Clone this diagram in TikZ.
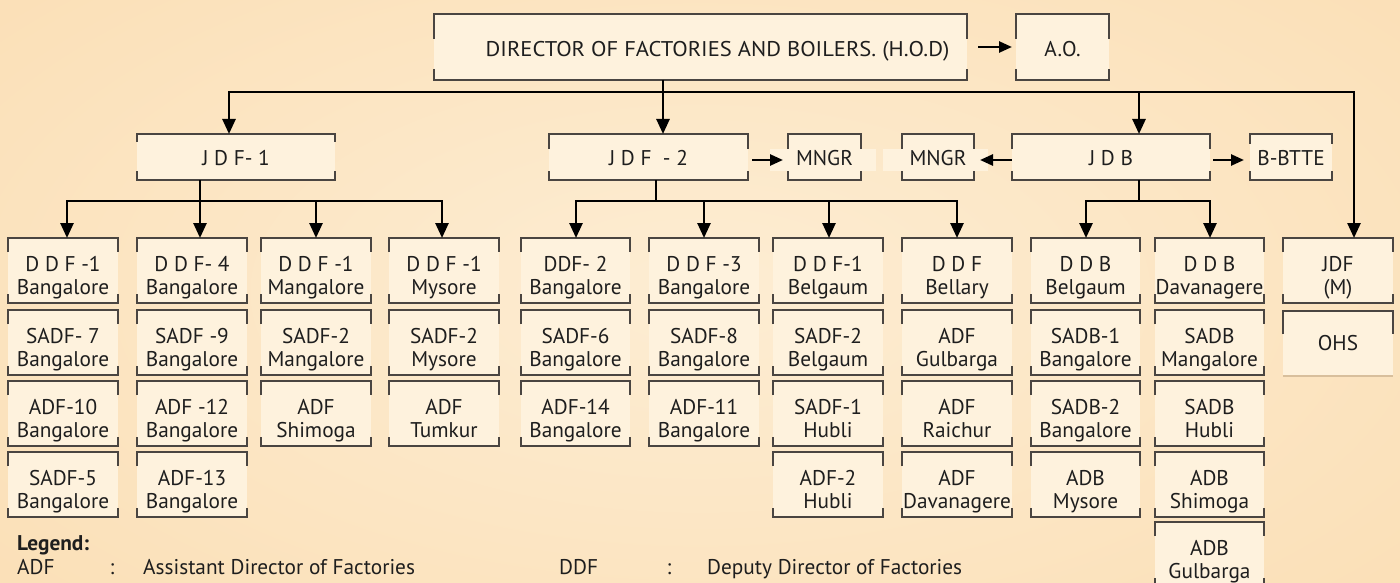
\documentclass[tikz,border=0pt]{standalone}
\usepackage{fontspec}
\setmainfont{PT Sans}
\usetikzlibrary{arrows.meta}
\definecolor{bgA}{HTML}{FDEDD3}
\definecolor{bgB}{HTML}{FBE0B8}
\definecolor{boxc}{HTML}{FEF2DD}
\definecolor{bordc}{HTML}{4A4541}
\definecolor{ink}{HTML}{1E1E1E}
\definecolor{tanc}{HTML}{D8BF9C}
\tikzset{
 boxn/.style={rectangle, fill=boxc, draw=none, inner sep=0pt, outer sep=0pt},
 bord/.style={draw=bordc, line width=1.2pt},
 txt/.style={inner sep=0pt, align=center, text=ink, font=\fontsize{21.3}{23}\selectfont},
 conn/.style={draw=black, line width=2.6pt, -{Triangle[width=13pt,length=15pt]}},
 connb/.style={draw=black, line width=2.6pt, {Triangle[width=13pt,length=15pt]}-{Triangle[width=13pt,length=15pt]}},
 hconn/.style={draw=black, line width=2.6pt, -{Triangle[width=11pt,length=13pt]}},
 bus/.style={draw=black, line width=2.6pt},
}
\newcommand\bx[7]{%
 \node[boxn, minimum width={(#4-#2)*1pt}, minimum height={(#5-#3)*1pt}] (#1) at ({(#2+#4)/2},{(#3+#5)/2}) {};
 \draw[bord] ([yshift=-#6pt]#1.north west) -- (#1.north west) -- (#1.north east) -- ([yshift=-#6pt]#1.north east);
 \draw[bord] ([yshift=#7pt]#1.south west) -- (#1.south west) -- (#1.south east) -- ([yshift=#7pt]#1.south east);
}
\newcommand\cell[6]{% name, x1, x2, top, line1, line2
 \bx{#1}{#2}{#4}{#3}{#4+65}{14}{9}
 \node[txt, yshift=-7.4pt] (#1t) at (#1) {\strut #5\\\strut #6};
}
\begin{document}
\begin{tikzpicture}[x=1pt,y=-1pt]
\useasboundingbox (0,0) rectangle (1400,583);
\clip (0,0) rectangle (1400,583);
\shade[inner color=bgA, outer color=bgB] (-200,-150) rectangle (1600,733);

% top level
\bx{hod}{434}{14}{967}{80}{25}{11}
\node[txt, yshift=-5pt, xshift=17pt] (hodt) at (hod) {\strut\scalebox{1.06}[1]{DIRECTOR OF FACTORIES AND BOILERS. (H.O.D)}};
\bx{ao}{1016}{14}{1109}{80}{25}{11}
\node[txt, yshift=-5pt] (aot) at (ao) {\strut A.O.};

% second level
\bx{jdfa}{137}{134}{335}{180}{8}{9}
\node[txt, yshift=-3.4pt] (jdfat) at (jdfa) {\strut J D F- 1};
\bx{jdfb}{549}{134}{748}{180}{15}{9}
\node[txt, yshift=-3.4pt] (jdfbt) at (jdfb) {\strut J D F\ \ - 2};
\bx{mga}{788}{134}{861}{180}{15}{9}
\fill[boxc] (770,149) rectangle (876,171);
\node[txt, yshift=-3.4pt] (mgat) at (mga) {\strut MNGR};
\bx{mgb}{902}{134}{974}{180}{15}{9}
\fill[boxc] (883,149) rectangle (988,171);
\node[txt, yshift=-3.4pt] (mgbt) at (mgb) {\strut MNGR};
\bx{jdb}{1012}{134}{1210}{180}{15}{9}
\node[txt, yshift=-3.4pt] (jdbt) at (jdb) {\strut J D B};
\bx{bbt}{1250}{134}{1332}{180}{10}{9}
\node[txt, yshift=-3.4pt] (bbtt) at (bbt) {\strut B-BTTE};

% columns
\cell{a1}{8}{118}{238}{D D F -1}{Bangalore}
\cell{a2}{8}{118}{310}{SADF- 7}{Bangalore}
\cell{a3}{8}{118}{381}{ADF-10}{Bangalore}
\cell{a4}{8}{118}{452}{SADF-5}{Bangalore}
\cell{b1}{137}{247}{238}{D D F- 4}{Bangalore}
\cell{b2}{137}{247}{310}{SADF -9}{Bangalore}
\cell{b3}{137}{247}{381}{ADF -12}{Bangalore}
\cell{b4}{137}{247}{452}{ADF-13}{Bangalore}
\cell{c1}{261}{371}{238}{D D F -1}{Mangalore}
\cell{c2}{261}{371}{310}{SADF-2}{Mangalore}
\cell{c3}{261}{371}{381}{ADF}{Shimoga}
\cell{d1}{389}{499}{238}{D D F -1}{Mysore}
\cell{d2}{389}{499}{310}{SADF-2}{Mysore}
\cell{d3}{389}{499}{381}{ADF}{Tumkur}
\cell{e1}{521}{630}{238}{DDF- 2}{Bangalore}
\cell{e2}{521}{630}{310}{SADF-6}{Bangalore}
\cell{e3}{521}{630}{381}{ADF-14}{Bangalore}
\cell{f1}{649}{759}{238}{D D F -3}{Bangalore}
\cell{f2}{649}{759}{310}{SADF-8}{Bangalore}
\cell{f3}{649}{759}{381}{ADF-11}{Bangalore}
\cell{g1}{773}{883}{238}{D D F-1}{Belgaum}
\cell{g2}{773}{883}{310}{SADF-2}{Belgaum}
\cell{g3}{773}{883}{381}{SADF-1}{Hubli}
\cell{g4}{773}{883}{452}{ADF-2}{Hubli}
\cell{h1}{902}{1012}{238}{D D F}{Bellary}
\cell{h2}{902}{1012}{310}{ADF}{Gulbarga}
\cell{h3}{902}{1012}{381}{ADF}{Raichur}
\cell{h4}{902}{1012}{452}{ADF}{Davanagere}
\cell{i1}{1031}{1140}{238}{D D B}{Belgaum}
\cell{i2}{1031}{1140}{310}{SADB-1}{Bangalore}
\cell{i3}{1031}{1140}{381}{SADB-2}{Bangalore}
\cell{i4}{1031}{1140}{452}{ADB}{Mysore}
\cell{j1}{1155}{1264}{238}{D D B}{Davanagere}
\cell{j2}{1155}{1264}{310}{SADB}{Mangalore}
\cell{j3}{1155}{1264}{381}{SADB}{Hubli}
\cell{j4}{1155}{1264}{452}{ADB}{Shimoga}
\cell{j5}{1155}{1264}{522}{ADB}{Gulbarga}
\cell{k1}{1283}{1393}{238}{JDF}{(M)}
\node[boxn, minimum width=110pt, minimum height=65pt] (k2) at (1338,343.5) {};
\draw[bord] ([yshift=-23pt]k2.north west) -- (k2.north west) -- (k2.north east) -- ([yshift=-23pt]k2.north east);
\draw[draw=tanc, line width=1.2pt] (k2.south west) -- (k2.south east);
\node[txt, yshift=-2.5pt] (k2t) at (k2) {\strut OHS};

% top connectors
\coordinate (tp) at (663,92);
\coordinate (ta) at (229,92);
\coordinate (tm) at (1354,92);
\coordinate (tj) at (1139,92);
\draw[bus] (tp |- hod.south) -- (tp);
\draw[connb] (ta |- jdfa.north) -- (ta) -- (tm) -- (tm |- k1.north);
\draw[conn] (tp) -- (tp |- jdfb.north);
\draw[conn] (tj) -- (tj |- jdb.north);

% side arrows
\draw[hconn] ([xshift=11pt]hod.east) -- ([xshift=-4pt]ao.west);
\draw[hconn] ([xshift=4pt,yshift=-3pt]jdfb.east) -- ([xshift=-5pt,yshift=-3pt]mga.west);
\draw[hconn] ([yshift=-3pt]jdb.west) -- ([xshift=6pt,yshift=-3pt]mgb.east);
\draw[hconn] ([xshift=3pt,yshift=-3pt]jdb.east) -- ([xshift=-6pt,yshift=-3pt]bbt.west);

% JDF-1 fan
\coordinate (sa) at (200,201);
\coordinate (sa1) at (67,201);
\coordinate (sa3) at (316,201);
\coordinate (sa4) at (442,201);
\draw[bus] (sa |- jdfa.south) -- (sa);
\draw[connb] (sa1 |- a1.north) -- (sa1) -- (sa4) -- (sa4 |- d1.north);
\draw[conn] (sa) -- (sa |- b1.north);
\draw[conn] (sa3) -- (sa3 |- c1.north);

% JDF-2 fan
\coordinate (sb) at (656,201);
\coordinate (sb1) at (576,201);
\coordinate (sb2) at (704,201);
\coordinate (sb3) at (829,201);
\coordinate (sb4) at (957,201);
\draw[bus] (sb |- jdfb.south) -- (sb);
\draw[connb] (sb1 |- e1.north) -- (sb1) -- (sb4) -- (sb4 |- h1.north);
\draw[conn] (sb2) -- (sb2 |- f1.north);
\draw[conn] (sb3) -- (sb3 |- g1.north);

% JDB fan
\coordinate (sj) at (1139,201);
\coordinate (sj1) at (1086,201);
\coordinate (sj2) at (1210,201);
\draw[bus] (sj |- jdb.south) -- (sj);
\draw[connb] (sj1 |- i1.north) -- (sj1) -- (sj2) -- (sj2 |- j1.north);

% legend
\node[txt, anchor=base west, font=\bfseries\fontsize{21.3}{23}\selectfont] (lg) at (17,550) {Legend:};
\node[txt, anchor=base west] (l1a) at (17,574) {ADF};
\node[txt, anchor=base] (l1b) at (112,574) {:};
\node[txt, anchor=base west] (l1c) at (143,574) {Assistant Director of Factories};
\node[txt, anchor=base west] (l2a) at (559,574) {DDF};
\node[txt, anchor=base] (l2b) at (669,574) {:};
\node[txt, anchor=base west] (l2c) at (707,574) {Deputy Director of Factories};
\end{tikzpicture}
\end{document}
